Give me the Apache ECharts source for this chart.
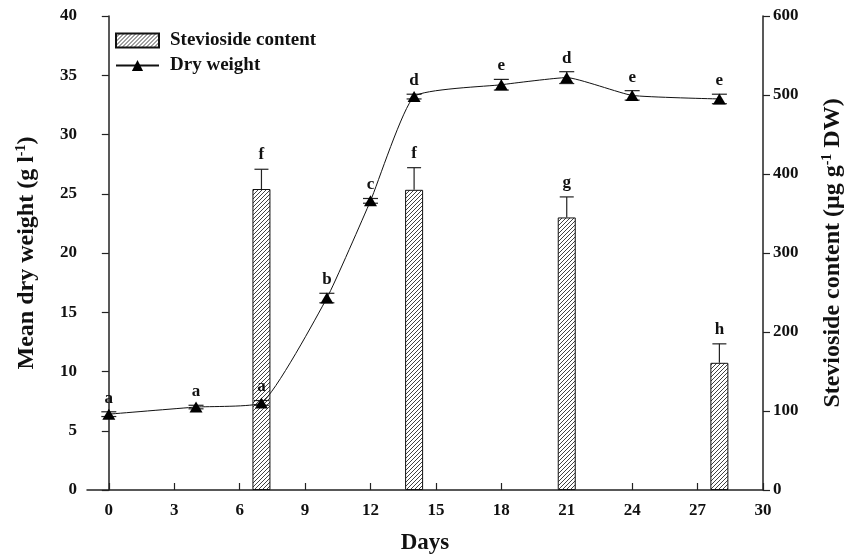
<!DOCTYPE html>
<html>
<head>
<meta charset="utf-8">
<script src="https://cdn.jsdelivr.net/npm/echarts@6/dist/echarts.min.js"></script>
<style>
  html, body { margin: 0; padding: 0; background: #fff; }
  #chart { width: 856px; height: 555px; }
</style>
</head>
<body>
<div id="chart"></div>
<script>
// data
const xTicks = [0, 3, 6, 9, 12, 15, 18, 21, 24, 27, 30]
const days = [0, 4, 7, 10, 12, 14, 18, 21, 24, 28]
const dryWeight = [6.4, 7.0, 7.35, 16.2, 24.4, 33.2, 34.2, 34.8, 33.3, 33.0]
const dryErr = [0.2, 0.15, 0.2, 0.4, 0.2, 0.2, 0.45, 0.5, 0.4, 0.4]
const dryLetters = ['a', 'a', 'a', 'b', 'c', 'd', 'e', 'd', 'e', 'e']
const steviaDays = [7, 14, 21, 28]
const stevioside = [381, 380, 345, 161]
const steviaErr = [25, 28, 26, 24]
const steviaLetters = ['f', 'f', 'g', 'h']

const FONT = 'Liberation Serif'
const INK = '#222'

// hatch pattern for the bars
function hatch() {
  const c = document.createElement('canvas')
  c.width = 4
  c.height = 4
  const g = c.getContext('2d')
  g.fillStyle = '#fff'
  g.fillRect(0, 0, 4, 4)
  g.strokeStyle = '#111'
  g.lineWidth = 0.8
  g.beginPath()
  g.moveTo(-1, 5); g.lineTo(5, -1)
  g.moveTo(-1, 1); g.lineTo(1, -1)
  g.moveTo(3, 5); g.lineTo(5, 3)
  g.stroke()
  return { image: c, repeat: 'repeat' }
}

// error bar + letter, both sides or only up
function errRender(letters, twoSided, cap, gap) {
  return function (params, api) {
    const x = api.value(0), y = api.value(1), e = api.value(2)
    const top = api.coord([x, y + e])
    const bot = api.coord([x, twoSided ? y - e : y])
    const st = { stroke: INK, lineWidth: 1.2 }
    const kids = [
      { type: 'line', shape: { x1: top[0], y1: top[1], x2: bot[0], y2: bot[1] }, style: st },
      { type: 'line', shape: { x1: top[0] - cap, y1: top[1], x2: top[0] + cap, y2: top[1] }, style: st },
      { type: 'text', style: { text: letters[params.dataIndex], x: top[0], y: top[1] - gap,
        align: 'center', verticalAlign: 'bottom', font: 'bold 17px "' + FONT + '"', fill: '#111' } }
    ]
    if (twoSided) {
      kids.push({ type: 'line', shape: { x1: bot[0] - cap, y1: bot[1], x2: bot[0] + cap, y2: bot[1] }, style: st })
    }
    return { type: 'group', children: kids }
  }
}

const chart = echarts.init(document.getElementById('chart'))
const tickLabel = { fontFamily: FONT, fontWeight: 'bold', fontSize: 17, color: '#111' }
const nameStyle = {
  fontFamily: FONT, fontWeight: 'bold', fontSize: 24, color: '#111',
  rich: {
    a: { fontFamily: FONT, fontWeight: 'bold', fontSize: 24, color: '#111', lineHeight: 26 },
    s: { fontFamily: FONT, fontWeight: 'bold', fontSize: 14, color: '#111', verticalAlign: 'top', lineHeight: 26, padding: [0, 0, 10, 0] }
  }
}

chart.setOption({
  animation: false,
  backgroundColor: '#fff',
  grid: { left: 87, right: 93, top: 16, bottom: 65, outerBoundsMode: 'none' },
  legend: {
    orient: 'vertical',
    left: 110,
    top: 25,
    itemWidth: 43,
    itemHeight: 14,
    itemGap: 4,
    textStyle: { fontFamily: FONT, fontWeight: 'bold', fontSize: 19, color: '#111', lineHeight: 21, padding: [0, 0, 0, 6] },
    data: [{ name: 'Stevioside content', icon: 'rect' }, { name: 'Dry weight' }]
  },
  xAxis: {
    type: 'value',
    min: -1,
    max: 30,
    name: 'Days',
    nameLocation: 'middle',
    nameGap: 42,
    nameTextStyle: { fontFamily: FONT, fontWeight: 'bold', fontSize: 23, color: '#111' },
    splitLine: { show: false },
    axisLine: { lineStyle: { color: INK, width: 1.5 } },
    axisTick: { inside: true, length: 7, customValues: xTicks, lineStyle: { color: INK, width: 1.2 } },
    axisLabel: Object.assign({ margin: 12, customValues: xTicks }, tickLabel)
  },
  yAxis: [
    {
      type: 'value', min: 0, max: 40, interval: 5, position: 'left',
      name: '{a|Mean dry weight (g l}{s|-1}{a|)}',
      nameLocation: 'middle', nameRotate: 90, nameGap: 47,
      nameTextStyle: nameStyle,
      splitLine: { show: false },
      axisLine: { show: true, lineStyle: { color: INK, width: 1.5 } },
      axisTick: { show: true, length: 7, lineStyle: { color: INK, width: 1.2 } },
      axisLabel: Object.assign({ margin: 10 }, tickLabel)
    },
    {
      type: 'value', min: 0, max: 600, interval: 100, position: 'right',
      name: '{a|Stevioside content (μg g}{s|-1}{a| DW)}',
      nameLocation: 'middle', nameRotate: 90, nameGap: 57,
      nameTextStyle: nameStyle,
      splitLine: { show: false },
      axisLine: { show: true, lineStyle: { color: INK, width: 1.5 } },
      axisTick: { show: true, length: 7, lineStyle: { color: INK, width: 1.2 } },
      axisLabel: Object.assign({ margin: 10 }, tickLabel)
    }
  ],
  series: [
    {
      name: 'Stevioside content',
      type: 'bar',
      yAxisIndex: 1,
      barWidth: 18,
      itemStyle: { color: hatch(), borderColor: '#111', borderWidth: 1 },
      data: steviaDays.map((d, i) => [d, stevioside[i]])
    },
    {
      type: 'custom',
      yAxisIndex: 1,
      renderItem: errRender(steviaLetters, false, 7, 6),
      data: steviaDays.map((d, i) => [d, stevioside[i], steviaErr[i]]),
      z: 3
    },
    {
      type: 'custom',
      yAxisIndex: 0,
      renderItem: errRender(dryLetters, true, 7.5, 5),
      data: days.map((d, i) => [d, dryWeight[i], dryErr[i]]),
      z: 3
    },
    {
      name: 'Dry weight',
      type: 'line',
      yAxisIndex: 0,
      smooth: 0.15,
      symbol: 'triangle',
      symbolSize: [13, 11],
      lineStyle: { color: '#111', width: 1 },
      itemStyle: { color: '#000' },
      data: days.map((d, i) => [d, dryWeight[i]]),
      z: 4
    }
  ]
})
</script>
</body>
</html>
